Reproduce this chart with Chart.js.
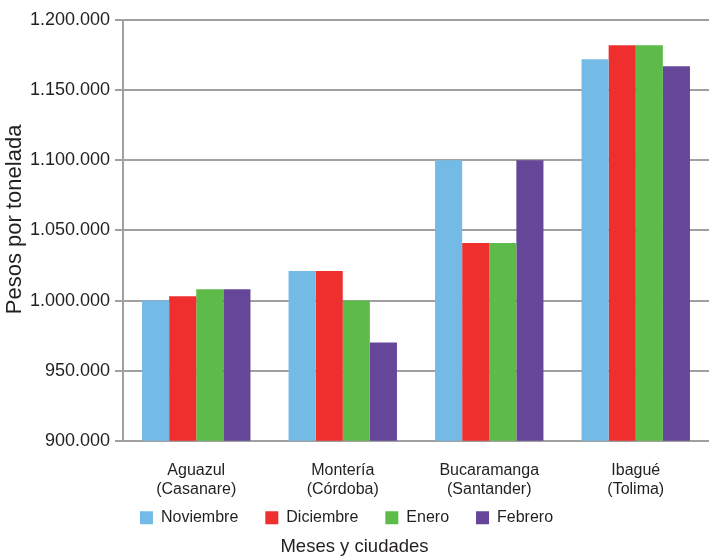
<!DOCTYPE html>
<html lang="es">
<head>
  <meta charset="UTF-8">
  <title>Pesos por tonelada</title>
  <style>
    body { margin: 0; background: #fff; }
    .wrap { width: 709px; height: 558px; }
  </style>
  <script src="https://cdn.jsdelivr.net/npm/chart.js"></script>
</head>
<body>
  <div class="wrap"><canvas id="chart"></canvas></div>
  <script>
    const cities = [['Aguazul', '(Casanare)'], ['Montería', '(Córdoba)'], ['Bucaramanga', '(Santander)'], ['Ibagué', '(Tolima)']];
    const months = ['Noviembre', 'Diciembre', 'Enero', 'Febrero'];
    const noviembre = [1000000, 1021000, 1100000, 1172000];
    const diciembre = [1003000, 1021000, 1041000, 1182000];
    const enero = [1008000, 1000000, 1041000, 1182000];
    const febrero = [1008000, 970000, 1100000, 1167000];
    const colors = ['#73bbe6', '#ee2f2d', '#5dbb4a', '#654699'];

    const font = 'Liberation Sans, Arial, sans-serif';
    const textColor = '#231f20';
    const series = [noviembre, diciembre, enero, febrero];

    function fmt(v) {
      return String(v).replace(/\B(?=(\d{3})+(?!\d))/g, '.');
    }

    new Chart(document.getElementById('chart'), {
      type: 'bar',
      data: {
        labels: cities,
        datasets: series.map((d, i) => ({
          label: months[i],
          data: d,
          backgroundColor: colors[i],
          categoryPercentage: 0.74,
          barPercentage: 1
        }))
      },
      options: {
        responsive: true,
        maintainAspectRatio: false,
        animation: false,
        layout: { padding: { top: 20, left: 0, right: 0, bottom: 0 } },
        scales: {
          x: {
            grid: { display: false },
            border: { color: '#a0a0a0', width: 2 },
            ticks: { color: textColor, font: { family: font, size: 16, lineHeight: 1.15 }, padding: 13 },
            afterFit: s => { s.height = 58; }
          },
          y: {
            min: 900000,
            max: 1200000,
            ticks: {
              stepSize: 50000,
              color: textColor,
              font: { family: font, size: 18 },
              padding: 5,
              callback: v => fmt(v)
            },
            grid: { color: '#a0a0a0', lineWidth: 2, tickLength: 8 },
            border: { color: '#a0a0a0', width: 2 },
            title: {
              display: true,
              // leading em space nudges the title a little above the axis centre
              text: '\u2003Pesos por tonelada',
              color: textColor,
              font: { family: font, size: 22 },
              padding: { top: 2, bottom: 0 }
            },
            afterFit: s => { s.width = 123; }
          }
        },
        plugins: {
          legend: {
            position: 'bottom',
            labels: {
              color: textColor,
              font: { family: font, size: 16 },
              boxWidth: 13,
              boxHeight: 13,
              padding: 11,
              // small vertical padding, so widen the gap between items with an em space
              generateLabels: chart => Chart.defaults.plugins.legend.labels.generateLabels(chart)
                .map(item => ({ ...item, text: item.text + '\u2003' }))
            }
          },
          title: {
            display: true,
            position: 'bottom',
            text: 'Meses y ciudades',
            color: textColor,
            font: { family: font, size: 18.5, weight: 'normal' },
            padding: { top: 0, bottom: 0 }
          },
          tooltip: { enabled: false }
        }
      }
    });
  </script>
</body>
</html>
